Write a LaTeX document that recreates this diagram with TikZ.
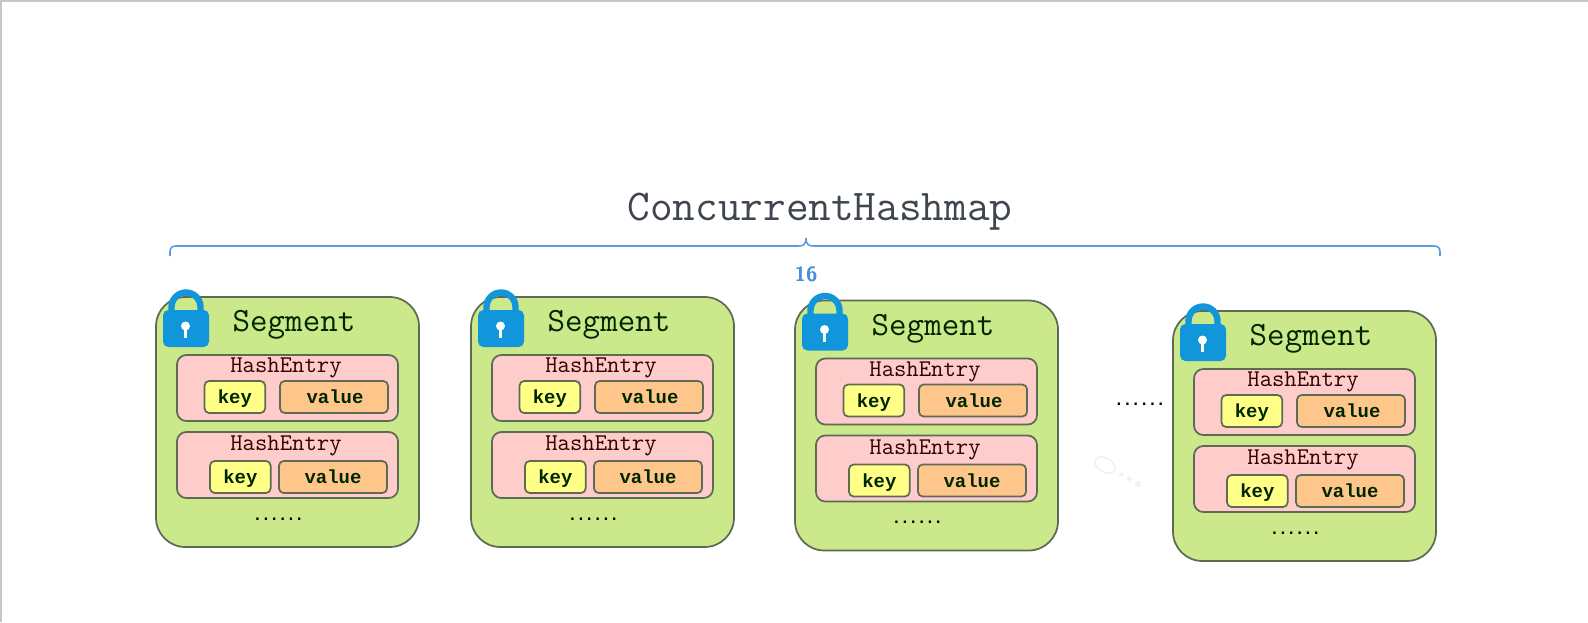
\documentclass[tikz,border=0pt]{standalone}
\usepackage{fontspec}
\newfontfamily\slabbold[BoldFont={Liberation Mono Bold}]{Liberation Mono}
\newfontfamily\dotfont{DejaVu Sans Mono Bold}
\newcommand{\boxtxt}[1]{\raisebox{0pt}[10.4pt][0pt]{#1}}
\definecolor{segfill}{HTML}{CBE88A}
\definecolor{entryfill}{HTML}{FFCCCC}
\definecolor{keyfill}{HTML}{FFFF88}
\definecolor{valfill}{HTML}{FFC68C}
\definecolor{edgecol}{HTML}{5D6B55}
\definecolor{lockblue}{HTML}{1296DB}
\definecolor{bracecol}{HTML}{5B9BE0}
\definecolor{countcol}{HTML}{4A8FD8}
\definecolor{titlecol}{HTML}{3F4650}
\definecolor{wmark}{HTML}{EAF3F7}
\tikzset{
  x=0.75pt,y=-0.75pt,
  box/.style={draw=edgecol,line width=1.3pt,anchor=north west,inner sep=0pt,outer sep=0pt},
  segbox/.style={box,fill=segfill,rounded corners=22pt,minimum width=197.25pt,minimum height=187.5pt},
  entrybox/.style={box,fill=entryfill,rounded corners=7pt,minimum width=165.75pt,minimum height=49.5pt},
  keybox/.style={box,fill=keyfill,rounded corners=3.5pt,minimum width=45.5pt,minimum height=24pt,
     font=\slabbold\bfseries\fontsize{14.2}{14.2}\selectfont,text=black!85!green},
  valbox/.style={box,fill=valfill,rounded corners=3.5pt,minimum width=81pt,minimum height=24pt,
     font=\slabbold\bfseries\fontsize{14.2}{14.2}\selectfont,text=black!85!green},
  segtitle/.style={font=\ttfamily\fontsize{25.5}{25.5}\selectfont,text=black!85!green,inner sep=0pt},
  entrytitle/.style={font=\ttfamily\fontsize{18}{18}\selectfont,text=black!80!red,inner sep=0pt},
  dotstext/.style={font=\dotfont\fontsize{10.4}{10.4}\selectfont,inner sep=0pt},
  lockbody/.style={fill=lockblue,rounded corners=4pt},
}
\newcommand{\segdraw}[3]{%
\begin{scope}[shift={(#2,#3)}]
  \node[segbox] (seg#1) at (156,297) {};
  \draw[lockblue,line width=4.8pt] (171.5,318) -- (171.5,307) arc[start angle=180,end angle=360,radius=14.5] -- (200.5,318);
  \fill[lockbody] (163,310) rectangle (209,347);
  \fill[white] (185.5,326) circle[radius=4.5];
  \fill[white] (183.7,327) rectangle (187.3,338);
  \node[segtitle] (segt#1) at (294,325) {Segment};
  \node[entrybox] (ea#1) at (177,355) {};
  \node[entrytitle] (eat#1) at (286,368) {HashEntry};
  \node[keybox] (ka#1) at (204.5,381) {\boxtxt{key}};
  \node[valbox] (va#1) at (280,381) {\hspace*{1.5pt}\boxtxt{value}};
  \node[entrybox] (eb#1) at (177,432) {};
  \node[entrytitle] (ebt#1) at (286,446) {HashEntry};
  \node[keybox] (kb#1) at (210,461) {\boxtxt{key}};
  \node[valbox] (vb#1) at (279,461) {\boxtxt{value}};
  \node[dotstext] (d#1) at (278.5,519) {......};
\end{scope}}
\begin{document}
\begin{tikzpicture}
\useasboundingbox (0,0) rectangle (1588,622);
\fill[white] (0,0) rectangle (1588,622);
\fill[black!22] (0,0) rectangle (1588,1.5);
\fill[black!22] (0,0) rectangle (1.8,622);
\node[font=\ttfamily\fontsize{33}{33}\selectfont,text=titlecol,inner sep=0pt] (title) at (820,212) {ConcurrentHashmap};
\coordinate (bl) at (170,256);
\coordinate (br) at (1440,256);
\coordinate (bc) at (806,238);
\draw[bracecol,line width=1.2pt] (bl) -- (170,252) .. controls (170,248) and (172,246) .. (176,246) -- (798,246) .. controls (803,246) and (806,245) .. (bc) .. controls (806,245) and (809,246) .. (814,246) -- (1434,246) .. controls (1438,246) and (1440,248) .. (1440,252) -- (br);
\node[font=\sffamily\bfseries\fontsize{15.5}{15.5}\selectfont,text=countcol,inner sep=0pt] (count) at (806,274) {16};
\segdraw{a}{0}{0}
\segdraw{b}{315}{0}
\segdraw{c}{639}{3.5}
\segdraw{d}{1017}{14}
\node[dotstext] (gap) at (1140,404) {......};
\begin{scope}[wmark,rotate around={-30:(1105,465)}]
  \draw[line width=1.2pt] (1105,465) ellipse[x radius=11,y radius=7];
  \fill (1124,465) circle[radius=2] (1133,465) circle[radius=2.5] (1143,465) circle[radius=3];
\end{scope}
\end{tikzpicture}
\end{document}
